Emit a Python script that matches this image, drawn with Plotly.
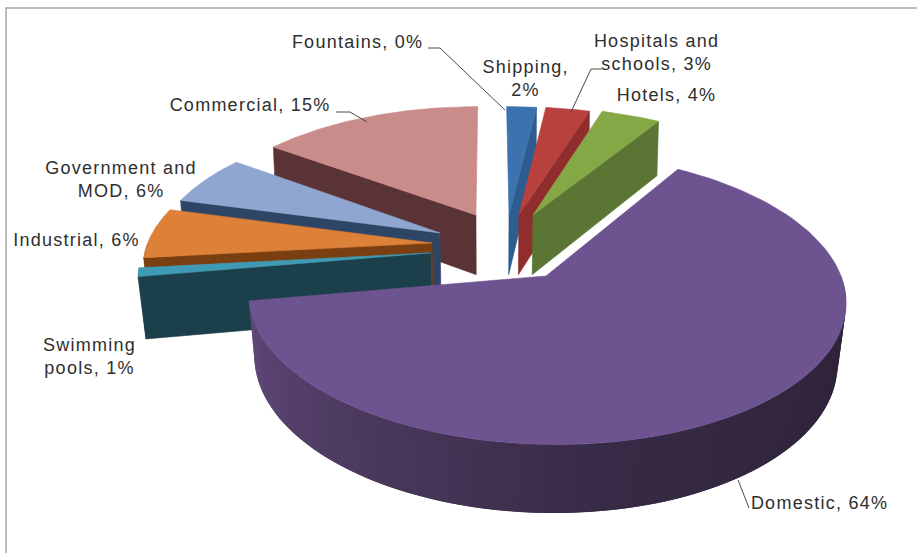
import numpy as np
import plotly.graph_objects as go

# Share of water use by sector, clockwise from twelve o'clock
labels = ["Shipping", "Hospitals and schools", "Hotels", "Domestic",
          "Swimming pools", "Industrial", "Government and MOD", "Commercial", "Fountains"]
values = [2, 3, 4, 64, 1, 6, 6, 15, 0]

# Slice appearance
top_colors = ["#3c73ae", "#b8403d", "#84a845", "#6d5490",
              "#3f9bb5", "#dd8038", "#8fa6d0", "#c98c8a", "#c98c8a"]
wall_colors = ["#2d5c91", "#8f2e2d", "#5a7534", "#2b2135",
               "#1c3f4c", "#7a3f10", "#2f4566", "#5a3336", "#5a3336"]

# Outward pull of each slice on the pie's plane (x, towards-viewer)
pull_x = [0.069, 0.105, 0.156, 0.190, -0.207, -0.204, -0.178, -0.051, 0.0]
pull_z = [-0.233, -0.233, -0.233, 0.225, 0.059, -0.015, -0.092, -0.233, -0.233]

# Back-to-front painting order
draw_order = ["Commercial", "Government and MOD", "Industrial", "Swimming pools",
              "Shipping", "Hospitals and schools", "Hotels", "Domestic"]

# Projection of the tilted pie
CX, CY = 490.0, 245.0
RX, RY = 285.0, 133.0
PERSP = 0.15
DEPTH = 61.0
CONVERGE = 0.02


def project(px, pz):
    w = 1 - PERSP * pz
    return CX + RX * px / w, CY + RY * pz / w


def lower(px, pz):
    # Same plane point on the underside of the pie; verticals lean inward
    x, y = project(px, pz)
    lean = CONVERGE * max(0.0, 1 + 0.5 * pz)
    return x + (CX - x) * lean, y + DEPTH * (1 + 0.1 * pz)


def polygon(fig, xs, ys, color, edge=0.6):
    fig.add_trace(go.Scatter(
        x=list(xs) + [xs[0]], y=list(ys) + [ys[0]], mode="lines", fill="toself",
        fillcolor=color, line=dict(color=color, width=edge),
        hoverinfo="skip", showlegend=False))


def rgb(hex_color):
    return np.array([int(hex_color[i:i + 2], 16) for i in (1, 3, 5)], dtype=float)


# Rim shading of the large slice, by angle
rim_angles = [90, 170, 220, 262]
rim_stops = np.array([rgb(c) for c in ("#2b2135", "#372a45", "#4d3b61", "#62497d")])


def rim_color(name, theta, base):
    if name != "Domestic":
        return base
    channels = [np.interp(theta, rim_angles, rim_stops[:, i]) for i in range(3)]
    return "rgb({:.0f},{:.0f},{:.0f})".format(*channels)


fig = go.Figure()
total = sum(values)
cumulative = np.concatenate([[0], np.cumsum(values)])

for name in draw_order:
    i = labels.index(name)
    start = cumulative[i] / total * 360
    end = cumulative[i + 1] / total * 360
    ox, oz = pull_x[i], pull_z[i]

    def rim_point(theta):
        t = np.radians(theta)
        return ox + np.sin(t), oz - np.cos(t)

    # Radial cut faces that look towards the viewer
    for theta, normal in ((start, start - 90), (end, end + 90)):
        if -np.cos(np.radians(normal)) > 1e-6:
            p = rim_point(theta)
            x0, y0 = project(ox, oz)
            x1, y1 = project(*p)
            x2, y2 = lower(*p)
            x3, y3 = lower(ox, oz)
            polygon(fig, [x0, x1, x2, x3], [y0, y1, y2, y3], wall_colors[i])

    # Front part of the outer rim: each band runs under the next so no seams show
    a, b = max(start, 90), min(end, 270)
    if b > a:
        coarse = np.linspace(a, b, max(2, int((b - a) / 2) + 1))
        for t0, t1 in zip(coarse[:-1], coarse[1:]):
            band = np.linspace(t0, min(b, t1 + 2), 8)
            plane = [rim_point(t) for t in band]
            upper = [project(*p) for p in plane]
            under = [lower(*p) for p in plane[::-1]]
            pts = upper + under
            polygon(fig, [p[0] for p in pts], [p[1] for p in pts],
                    rim_color(name, (t0 + t1) / 2, wall_colors[i]), edge=0)

    # Upper face
    arc = np.linspace(start, end, 120)
    pts = [project(ox, oz)] + [project(*rim_point(t)) for t in arc]
    polygon(fig, [p[0] for p in pts], [p[1] for p in pts], top_colors[i])

# Data labels
label_text = [
    ("Fountains, 0%", 357, 42), ("Commercial, 15%", 250, 105),
    ("Government and<br>MOD, 6%", 121, 179), ("Industrial, 6%", 76, 240),
    ("Swimming<br>pools, 1%", 89, 356), ("Shipping,<br>2%", 525, 78),
    ("Hospitals and<br>schools, 3%", 656, 52), ("Hotels, 4%", 666, 95),
    ("Domestic, 64%", 819, 503),
]
annotations = [dict(x=x, y=y, xref="x", yref="y", text=t, showarrow=False,
                    xanchor="center", yanchor="middle",
                    font=dict(family="Liberation Sans", size=18, color="#2e2e2e"))
               for t, x, y in label_text]

# Leader lines and the chart frame
leaders = [
    [(428, 48), (440, 48), (505, 110)],
    [(336, 112), (350, 112), (367, 122)],
    [(602, 69), (591, 69), (571, 112)],
    [(749, 508), (738, 480)],
]
shapes = []
for path in leaders:
    d = "M " + " L ".join(f"{x} {y}" for x, y in path)
    shapes.append(dict(type="path", path=d, xref="x", yref="y",
                       line=dict(color="#4a4a4a", width=1)))
shapes.append(dict(type="path", path="M 6 553 L 6 8 L 917 8", xref="x", yref="y",
                   line=dict(color="#a6a6a6", width=1.5)))

fig.update_layout(
    width=917, height=553, autosize=False,
    margin=dict(l=0, r=0, t=0, b=0),
    paper_bgcolor="white", plot_bgcolor="white",
    xaxis=dict(range=[0, 917], visible=False, fixedrange=True),
    yaxis=dict(range=[553, 0], visible=False, fixedrange=True),
    showlegend=False, annotations=annotations, shapes=shapes,
)

# Wider tracking on the label text
spacing = ("document.querySelectorAll('.annotation-text')"
           ".forEach(function(t){t.style.letterSpacing='1.25px';});")
fig.write_html("out.html", config={"displayModeBar": False}, post_script=spacing)
